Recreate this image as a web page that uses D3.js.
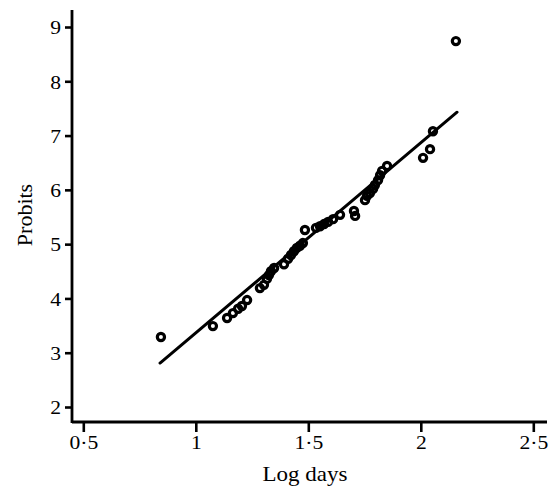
<!DOCTYPE html>
<html><head><meta charset="utf-8">
<script src="https://cdn.jsdelivr.net/npm/d3@7"></script>
<style>
body{margin:0;background:#fff;}
svg text{font-family:"Liberation Serif","Times New Roman",serif;fill:#000;}
</style></head>
<body><svg id="c" width="555" height="488"></svg>
<script>
const logDays = [0.845,1.076,1.139,1.165,1.188,1.205,1.228,1.285,1.303,1.316,1.325,1.334,1.348,1.392,1.410,1.423,1.436,1.449,1.463,1.476,1.485,1.534,1.552,1.570,1.588,1.610,1.641,1.703,1.708,1.752,1.761,1.774,1.788,1.796,1.810,1.819,1.828,1.850,2.010,2.041,2.054,2.156];
const probits = [3.29,3.49,3.64,3.73,3.81,3.86,3.97,4.19,4.25,4.36,4.43,4.50,4.56,4.63,4.73,4.80,4.87,4.93,4.97,5.02,5.26,5.30,5.33,5.37,5.41,5.46,5.54,5.61,5.52,5.81,5.89,5.94,6.02,6.09,6.18,6.27,6.35,6.44,6.59,6.75,7.08,8.74];
const fitX = [0.841, 2.161];
const fitY = [2.81, 7.43];
const xTicks = [0.5,1,1.5,2,2.5];
const xTickLabels = ["0·5","1","1·5","2","2·5"];
const yTicks = [2,3,4,5,6,7,8,9];

const svg = d3.select("#c");
const x = d3.scaleLinear().domain([0.5,2.5]).range([83.3,533.3]);
const y = d3.scaleLinear().domain([2,9]).range([407,27]);
const axisX0 = 72, axisY0 = 422;

// axes
const gx = svg.append("g").attr("transform",`translate(0,${axisY0})`)
  .call(d3.axisBottom(x).tickValues(xTicks).tickFormat((d,i)=>xTickLabels[i]).tickSize(10).tickSizeOuter(0).tickPadding(4));
gx.select(".domain").remove();
gx.selectAll(".tick line").attr("stroke","#000").attr("stroke-width",2.6);
gx.selectAll(".tick text").attr("font-size",18).attr("fill","#000")
  .style("transform-box","fill-box").style("transform-origin","50% 50%").style("transform","scaleX(1.2)");

const gy = svg.append("g").attr("transform",`translate(${axisX0},0)`)
  .call(d3.axisLeft(y).tickValues(yTicks).tickFormat(d3.format("d")).tickSize(7).tickSizeOuter(0).tickPadding(4));
gy.select(".domain").remove();
gy.selectAll(".tick line").attr("stroke","#000").attr("stroke-width",2.6);
gy.selectAll(".tick text").attr("font-size",18).attr("fill","#000").attr("dy","0.38em")
  .style("transform-box","fill-box").style("transform-origin","100% 50%").style("transform","scaleX(1.2)");

svg.append("line").attr("x1",axisX0).attr("x2",547).attr("y1",axisY0).attr("y2",axisY0)
  .attr("stroke","#000").attr("stroke-width",2.8);
svg.append("line").attr("x1",axisX0).attr("x2",axisX0).attr("y1",10).attr("y2",axisY0+1)
  .attr("stroke","#000").attr("stroke-width",2.8);

// fitted line
svg.append("line").attr("x1",x(fitX[0])).attr("y1",y(fitY[0])).attr("x2",x(fitX[1])).attr("y2",y(fitY[1]))
  .attr("stroke","#000").attr("stroke-width",3).attr("stroke-linecap","round");

// points
svg.append("g").selectAll("circle").data(logDays).join("circle")
  .attr("cx",d=>x(d)).attr("cy",(d,i)=>y(probits[i])).attr("r",3.6)
  .attr("fill","none").attr("stroke","#000").attr("stroke-width",3.2);

// axis titles
svg.append("text").attr("x",305).attr("y",481).attr("text-anchor","middle").attr("font-size",20)
  .style("transform-box","fill-box").style("transform-origin","50% 50%").style("transform","scaleX(1.15)")
  .text("Log days");
svg.append("text").attr("transform","translate(32,215) rotate(-90)").attr("text-anchor","middle")
  .attr("font-size",22).text("Probits");
</script></body></html>
